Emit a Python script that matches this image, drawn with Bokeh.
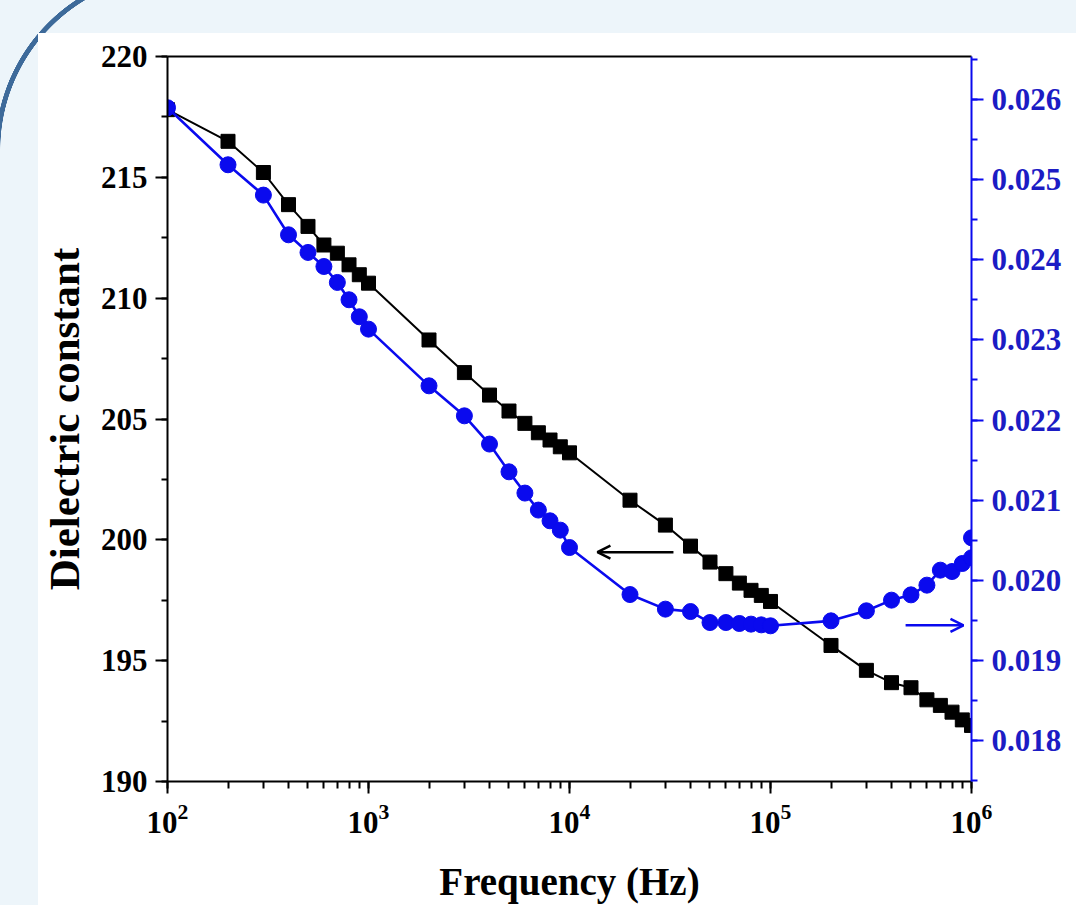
from bokeh.plotting import figure
from bokeh.models import (Range1d, LinearAxis, LogTicker, SingleIntervalTicker,
                          PrintfTickFormatter, Arrow, OpenHead, FixedTicker)
from bokeh.embed import file_html
from bokeh.resources import INLINE

# ---------------- data ----------------
freq = [100, 200, 300, 400, 500, 600, 700, 800, 900,
        1000, 2000, 3000, 4000, 5000, 6000, 7000, 8000, 9000,
        10000, 20000, 30000, 40000, 50000, 60000, 70000, 80000, 90000,
        100000, 200000, 300000, 400000, 500000, 600000, 700000, 800000, 900000,
        1000000]
dielectric = [217.80, 216.49, 215.20, 213.87, 212.97, 212.20, 211.86, 211.38, 210.97,
              210.62, 208.27, 206.92, 205.99, 205.33, 204.82, 204.43, 204.13, 203.85,
              203.60, 201.64, 200.61, 199.74, 199.08, 198.60, 198.21, 197.91, 197.70,
              197.45, 195.63, 194.60, 194.09, 193.88, 193.38, 193.15, 192.87, 192.55,
              192.32]
freq_tan = [100, 200, 300, 400, 500, 600, 700, 800, 900,
            1000, 2000, 3000, 4000, 5000, 6000, 7000, 8000, 9000,
            10000, 20000, 30000, 40000, 50000, 60000, 70000, 80000, 90000,
            100000, 200000, 300000, 400000, 500000, 600000, 700000, 800000, 900000,
            1000000, 1000000]
tan_loss = [0.025893, 0.025182, 0.024804, 0.024309, 0.024089, 0.023914, 0.023715, 0.023499, 0.023287,
            0.023133, 0.022426, 0.022052, 0.021700, 0.021354, 0.021089, 0.020877, 0.020743, 0.020627,
            0.020410, 0.019824, 0.019642, 0.019612, 0.019475, 0.019475, 0.019463, 0.019455, 0.019446,
            0.019434, 0.019496, 0.019621, 0.019754, 0.019820, 0.019941, 0.020128, 0.020111, 0.020211,
            0.020282, 0.020531]

x_label = "Frequency (Hz)"
y_label = "Dielectric constant"

BLUE = "#0a0aee"
BLUE_TXT = "#1c1cc4"
FONT = "Liberation Serif"
TICK_FS = "31px"

p = figure(width=1076, height=905, x_axis_type="log",
           x_range=Range1d(100, 1e6), y_range=Range1d(190, 220),
           output_backend="svg", toolbar_location=None,
           min_border_left=167, min_border_right=105,
           min_border_top=56, min_border_bottom=124)
p.extra_y_ranges = {"right": Range1d(0.017493, 0.026532)}

# transparent border so the slide-like CSS background shows through
p.border_fill_alpha = 0.0
p.background_fill_color = "white"
p.outline_line_color = None
p.grid.visible = False
p.styles = {
    "background-color": "#edf5fa",
    "background-image": ("linear-gradient(#ffffff, #ffffff), "
                         "radial-gradient(circle 200px at 175px 150px, "
                         "rgba(61,106,154,0) 174.5px, #3d6a9a 175px, "
                         "#3d6a9a 179.5px, rgba(61,106,154,0) 180px)"),
    "background-position": "38px 33px, 0px 0px",
    "background-size": "100% 100%, 110px 150px",
    "background-repeat": "no-repeat",
}

# bottom axis
xa = p.xaxis[0]
xa.ticker = LogTicker(desired_num_ticks=5, num_minor_ticks=10)
xa.axis_label = x_label
xa.axis_label_text_font = FONT
xa.axis_label_text_font_style = "bold"
xa.axis_label_text_font_size = "39px"
xa.axis_label_text_color = "black"
xa.axis_label_standoff = 24
xa.major_label_text_font = FONT
xa.major_label_text_font_style = "bold"
xa.major_label_text_font_size = TICK_FS
xa.major_label_text_color = "black"
xa.major_label_standoff = 10
xa.axis_line_width = 2
xa.major_tick_line_width = 2
xa.minor_tick_line_width = 2
xa.major_tick_out = 12
xa.major_tick_in = 0
xa.minor_tick_out = 7
xa.minor_tick_in = 0
xa.axis_line_color = "black"
xa.major_tick_line_color = "black"
xa.minor_tick_line_color = "black"

# left axis
ya = p.yaxis[0]
ya.ticker = SingleIntervalTicker(interval=5, num_minor_ticks=2)
ya.axis_label = y_label
ya.axis_label_text_font = FONT
ya.axis_label_text_font_style = "bold"
ya.axis_label_text_font_size = "43px"
ya.axis_label_text_color = "black"
ya.axis_label_standoff = 10
ya.major_label_text_font = FONT
ya.major_label_text_font_style = "bold"
ya.major_label_text_font_size = TICK_FS
ya.major_label_text_color = "black"
ya.major_label_standoff = 8
ya.axis_line_width = 2
ya.major_tick_line_width = 2
ya.minor_tick_line_width = 2
ya.major_tick_out = 12
ya.major_tick_in = 0
ya.minor_tick_out = 6
ya.minor_tick_in = 0
ya.axis_line_color = "black"
ya.major_tick_line_color = "black"
ya.minor_tick_line_color = "black"

# right axis
ra = LinearAxis(y_range_name="right",
                ticker=SingleIntervalTicker(interval=0.001, num_minor_ticks=2),
                formatter=PrintfTickFormatter(format="%.3f"))
ra.major_label_text_font = FONT
ra.major_label_text_font_style = "bold"
ra.major_label_text_font_size = TICK_FS
ra.major_label_text_color = BLUE_TXT
ra.major_label_standoff = 8
ra.axis_line_width = 2
ra.major_tick_line_width = 2
ra.minor_tick_line_width = 2
ra.major_tick_out = 12
ra.major_tick_in = 0
ra.minor_tick_out = 6
ra.minor_tick_in = 0
ra.axis_line_color = BLUE
ra.major_tick_line_color = BLUE
ra.minor_tick_line_color = BLUE
p.add_layout(ra, "right")

# top frame line
ta = LinearAxis(ticker=FixedTicker(ticks=[]), major_label_text_font_size="0px",
                major_tick_out=0, minor_tick_out=0, axis_line_width=2,
                axis_line_color="black")
p.add_layout(ta, "above")

# series
p.line(freq, dielectric, line_color="black", line_width=2)
p.scatter(freq, dielectric, marker="square", size=14, fill_color="black",
          line_color="black")
p.line(freq_tan, tan_loss, line_color=BLUE, line_width=2.6, y_range_name="right")
p.scatter(freq_tan, tan_loss, marker="circle", size=16, fill_color=BLUE,
          line_color=BLUE, y_range_name="right")

# arrows
p.add_layout(Arrow(end=OpenHead(size=13, line_color="black", line_width=2.5),
                   x_start=32900, y_start=199.49, x_end=13770, y_end=199.49,
                   line_color="black", line_width=2.5))
p.add_layout(Arrow(end=OpenHead(size=13, line_color=BLUE, line_width=2.5),
                   x_start=4.70e5, y_start=0.01944, x_end=9.12e5, y_end=0.01944,
                   line_color=BLUE, line_width=2.5, y_range_name="right"))

open("out.html", "w").write(file_html(p, INLINE))
